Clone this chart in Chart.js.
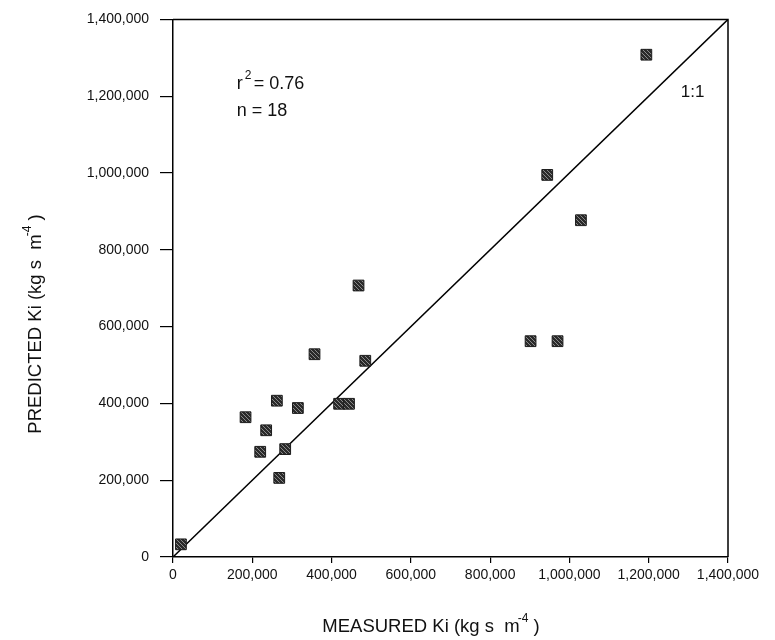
<!DOCTYPE html>
<html>
<head>
<meta charset="utf-8">
<script src="https://cdn.jsdelivr.net/npm/chart.js@4/dist/chart.umd.min.js"></script>
<style>
  html, body { margin: 0; padding: 0; background: #ffffff; }
  #wrap { width: 775px; height: 640px; position: relative; }
</style>
</head>
<body>
<div id="wrap"><canvas id="c"></canvas></div>
<script>
// ---- data ----
const measured  = [20000, 183000, 220000, 235000, 262000, 268000, 283000, 315000, 357000, 419000, 444000, 485000, 468000, 902000, 970000, 944000, 1029000, 1194000];
const predicted = [33000, 364000, 274000, 330000, 407000, 206000, 281000, 388000, 528000, 399000, 399000, 511000, 707000, 562000, 562000, 995000, 877000, 1308000];
const oneToOne  = [0, 1400000];
const axisMin = 0, axisMax = 1400000, axisStep = 200000;
const statLines = ["0.76", "n = 18"];
const lineLabel = "1:1";
const xTitle = ["MEASURED Ki (kg s  m", "-4", " )"];
const yTitle = ["PREDICTED Ki (kg s  m", "-4", " )"];

// stipple pattern for the square markers
function makePattern() {
  const p = document.createElement('canvas');
  p.width = 4; p.height = 4;
  const g = p.getContext('2d');
  g.fillStyle = '#2a2a2a'; g.fillRect(0, 0, 4, 4);
  g.fillStyle = '#8a8a8a';
  g.fillRect(1, 0, 1, 1); g.fillRect(3, 2, 1, 1); g.fillRect(0, 3, 1, 1); g.fillRect(2, 1, 1, 1);
  return g.createPattern(p, 'repeat');
}
const pattern = makePattern();

const points = measured.map((m, i) => ({ x: m, y: predicted[i] }));
const linePts = oneToOne.map(v => ({ x: v, y: v }));

const FONT = "'Liberation Sans', Arial, Helvetica, sans-serif";

function measureSup(ctx, parts, size, supSize) {
  ctx.font = size + 'px ' + FONT;
  const w0 = ctx.measureText(parts[0]).width;
  ctx.font = supSize + 'px ' + FONT;
  const w1 = ctx.measureText(parts[1]).width;
  ctx.font = size + 'px ' + FONT;
  const w2 = ctx.measureText(parts[2]).width;
  return { w0, w1, w2, total: w0 + w1 + w2 };
}
function renderSup(ctx, parts, x, y, size, supSize, supRaise) {
  const m = measureSup(ctx, parts, size, supSize);
  const sx = x - m.total / 2;
  ctx.textAlign = 'left';
  ctx.textBaseline = 'alphabetic';
  ctx.font = size + 'px ' + FONT;
  ctx.fillText(parts[0], sx, y);
  ctx.font = supSize + 'px ' + FONT;
  ctx.fillText(parts[1], sx + m.w0 - 2, y - supRaise);
  ctx.font = size + 'px ' + FONT;
  ctx.fillText(parts[2], sx + m.w0 + m.w1 - 2, y);
}

const decor = {
  id: 'decor',
  afterDraw(chart) {
    const { ctx, chartArea: a, scales } = chart;
    const xs = scales.x, ys = scales.y;
    ctx.save();
    // frame (top and right)
    ctx.strokeStyle = '#000';
    ctx.lineWidth = 1.5;
    ctx.beginPath();
    ctx.moveTo(a.left, a.top);
    ctx.lineTo(a.right, a.top);
    ctx.lineTo(a.right, a.bottom);
    ctx.stroke();

    ctx.fillStyle = '#111';
    // r^2 = 0.76
    const rx = xs.getPixelForValue(161000);
    const ry = ys.getPixelForValue(1219000);
    ctx.font = '18px ' + FONT;
    ctx.textAlign = 'left';
    ctx.textBaseline = 'alphabetic';
    ctx.fillText('r', rx, ry);
    const rw = ctx.measureText('r').width;
    ctx.font = '12px ' + FONT;
    ctx.fillText('2', rx + rw + 2, ry - 10);
    ctx.font = '18px ' + FONT;
    ctx.fillText('= ' + statLines[0], rx + rw + 11, ry);
    // n = 18
    ctx.fillText(statLines[1], rx, ys.getPixelForValue(1149000));
    // 1:1 label
    ctx.font = '17px ' + FONT;
    ctx.fillText(lineLabel, xs.getPixelForValue(1281000), ys.getPixelForValue(1199000));

    // axis titles
    ctx.fillStyle = '#111';
    renderSup(ctx, xTitle, 432, 632, 18.5, 12, 10);
    ctx.translate(41, 323);
    ctx.rotate(-Math.PI / 2);
    renderSup(ctx, yTitle, 0, 0, 18.5, 12, 10);
    ctx.restore();
  }
};

new Chart(document.getElementById('c'), {
  type: 'scatter',
  data: {
    datasets: [
      {
        type: 'scatter',
        label: 'Ki',
        data: points,
        pointStyle: 'rect',
        pointRadius: 7.6,
        pointHoverRadius: 7.6,
        backgroundColor: pattern,
        borderColor: '#1c1c1c',
        borderWidth: 1,
        order: 1
      },
      {
        type: 'line',
        label: '1:1',
        data: linePts,
        borderColor: '#000',
        borderWidth: 1.5,
        pointRadius: 0,
        fill: false,
        order: 2
      }
    ]
  },
  options: {
    responsive: true,
    maintainAspectRatio: false,
    animation: false,
    layout: { padding: { top: 15, right: 47, left: 0, bottom: 0 } },
    plugins: { legend: { display: false }, tooltip: { enabled: false } },
    scales: {
      x: {
        type: 'linear',
        min: axisMin, max: axisMax,
        afterFit(s) { s.height = 83; },
        ticks: {
          stepSize: axisStep,
          color: '#111',
          padding: 4,
          maxRotation: 0,
          autoSkip: false,
          font: { family: FONT, size: 14 },
          callback: v => Number(v).toLocaleString('en-US')
        },
        grid: { drawOnChartArea: false, drawTicks: true, tickLength: 6, color: '#000', lineWidth: 1.2 },
        border: { display: true, color: '#000', width: 1.5 }
      },
      y: {
        type: 'linear',
        min: axisMin, max: axisMax,
        afterFit(s) { s.width = 173; },
        ticks: {
          stepSize: axisStep,
          color: '#111',
          padding: 11,
          autoSkip: false,
          font: { family: FONT, size: 14 },
          callback: v => Number(v).toLocaleString('en-US')
        },
        grid: { drawOnChartArea: false, drawTicks: true, tickLength: 13, color: '#000', lineWidth: 1.2 },
        border: { display: true, color: '#000', width: 1.5 }
      }
    }
  },
  plugins: [decor]
});
</script>
</body>
</html>
